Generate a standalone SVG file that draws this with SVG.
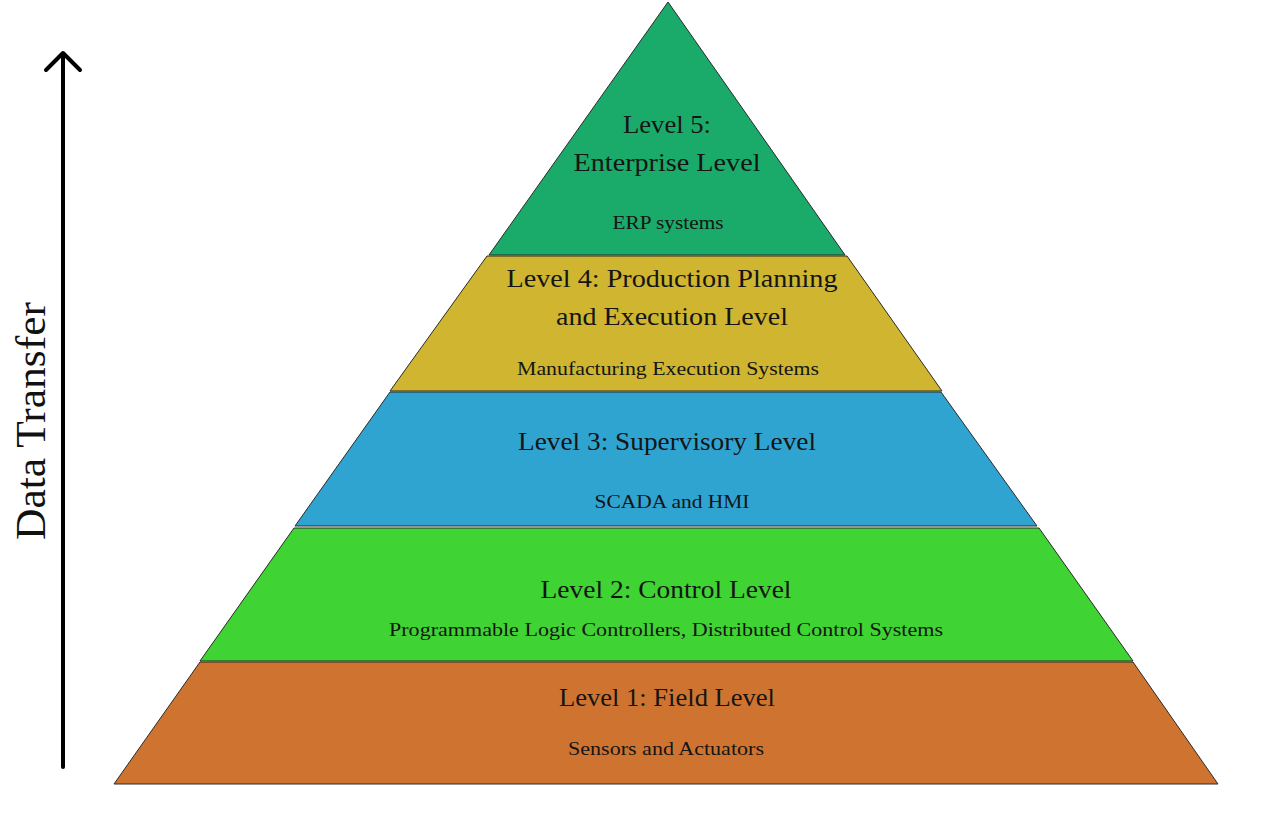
<svg xmlns="http://www.w3.org/2000/svg" width="1280" height="826" viewBox="0 0 1280 826">
<style>
.layer{stroke:#2a2a2a;stroke-width:1;stroke-linejoin:miter}
.h{font-family:"Liberation Serif","DejaVu Serif",serif;font-size:26px;fill:#151515;text-anchor:middle}
.s{font-family:"Liberation Serif","DejaVu Serif",serif;font-size:19px;fill:#151515;text-anchor:middle}
.ax{stroke:#000;stroke-width:4;fill:none;stroke-linecap:round;stroke-linejoin:round}
</style>
<rect width="1280" height="826" fill="#ffffff"/>
<g id="connectors">
<line class="ax" x1="63" y1="767" x2="63" y2="54"/>
<polyline class="ax" points="46,70 63,53 80,70"/>
</g>
<text id="data-transfer" transform="translate(45,421) rotate(-90)" font-family="Liberation Serif, DejaVu Serif, serif" font-size="42" fill="#111" text-anchor="middle" textLength="238" lengthAdjust="spacingAndGlyphs">Data Transfer</text>
<g id="level5">
<polygon class="layer" fill="#1aab6a" points="668,2 845,255 489,255"/>
<text class="h" x="667" y="133" textLength="88" lengthAdjust="spacingAndGlyphs">Level 5:</text>
<text class="h" x="667" y="171" textLength="187" lengthAdjust="spacingAndGlyphs">Enterprise Level</text>
<text class="s" x="668" y="229" textLength="111" lengthAdjust="spacingAndGlyphs">ERP systems</text>
</g>
<g id="level4">
<polygon class="layer" fill="#cfb530" points="487,256 847,256 942,391 390,391"/>
<text class="h" x="672" y="287" textLength="331" lengthAdjust="spacingAndGlyphs">Level 4: Production Planning</text>
<text class="h" x="672" y="325" textLength="232" lengthAdjust="spacingAndGlyphs">and Execution Level</text>
<text class="s" x="668" y="375" textLength="302" lengthAdjust="spacingAndGlyphs">Manufacturing Execution Systems</text>
</g>
<g id="level3">
<polygon class="layer" fill="#30a4d1" points="390,392 941,392 1037,526 295,526"/>
<text class="h" x="667" y="450" textLength="298" lengthAdjust="spacingAndGlyphs">Level 3: Supervisory Level</text>
<text class="s" x="672" y="508" textLength="155" lengthAdjust="spacingAndGlyphs">SCADA and HMI</text>
</g>
<g id="level2">
<polygon class="layer" fill="#3fd333" points="294,528 1039,528 1133,661 200,661"/>
<text class="h" x="666" y="598" textLength="251" lengthAdjust="spacingAndGlyphs">Level 2: Control Level</text>
<text class="s" x="666" y="636" textLength="554" lengthAdjust="spacingAndGlyphs">Programmable Logic Controllers, Distributed Control Systems</text>
</g>
<g id="level1">
<polygon class="layer" fill="#cf7430" points="200,662 1133,662 1218,784 114,784"/>
<text class="h" x="667" y="706" textLength="216" lengthAdjust="spacingAndGlyphs">Level 1: Field Level</text>
<text class="s" x="666" y="755" textLength="196" lengthAdjust="spacingAndGlyphs">Sensors and Actuators</text>
</g>
</svg>
